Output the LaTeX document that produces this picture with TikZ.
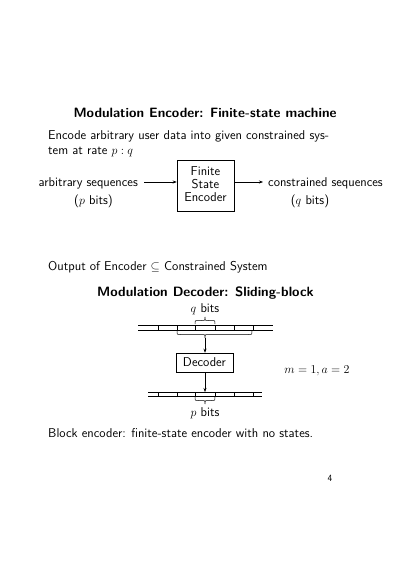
\documentclass[tikz,border=0pt]{standalone}
\usetikzlibrary{arrows.meta}
\begin{document}
\begin{tikzpicture}[x=1pt,y=-1pt,
  txt/.style={font=\sffamily\fontsize{12.8}{15}\selectfont, inner sep=0pt},
  ttl/.style={font=\sffamily\bfseries\fontsize{13.5}{16}\selectfont, inner sep=0pt},
  boxnode/.style={draw, line width=0.5pt, inner sep=0pt, font=\sffamily\fontsize{12.8}{15}\selectfont},
  arr/.style={line width=0.5pt, -{Stealth[length=4pt,width=3pt]}},
  ln/.style={line width=0.5pt}]
\useasboundingbox (0,0) rectangle (400,565);

% Encoder part
\node[ttl, anchor=base] (t1) at (205,117) {Modulation Encoder: Finite-state machine};
\node[txt, anchor=base west] (l1) at (48,139) {Encode arbitrary user data into given constrained sys-};
\node[txt, anchor=base west] (l2) at (48,154) {tem at rate $p:q$};

\node[boxnode, minimum width=57pt, minimum height=51pt] (enc) at (205.5,185.5) {};
\node[txt, anchor=base] (e1) at (205.5,175) {Finite};
\node[txt, anchor=base] (e2) at (205.5,188) {State};
\node[txt, anchor=base] (e3) at (205.5,201) {Encoder};

\node[txt, anchor=base east] (in) at (138,186) {arbitrary sequences};
\node[txt, anchor=base] (inb) at (93.5,204) {($p$ bits)};
\node[txt, anchor=base west] (out) at (268,186) {constrained sequences};
\node[txt, anchor=base] (outb) at (310,204) {($q$ bits)};
\coordinate (inarr) at (144,182);
\coordinate (outarr) at (263,182);
\draw[arr] (inarr) -- (enc.west |- inarr);
\draw[arr] (enc.east |- outarr) -- (outarr);

\node[txt, anchor=base west] (l3) at (48,270) {Output of Encoder $\subseteq$ Constrained System};

% Decoder part
\node[ttl, anchor=base] (t2) at (205.5,296) {Modulation Decoder: Sliding-block};
\node[txt, anchor=base] (qb) at (205,312) {$q$ bits};

% top tape
\draw[ln] (138,325) -- (273,325) (138,330) -- (273,330);
\foreach \x in {158,177,195,215,234,253} \draw[ln] (\x,325) -- (\x,330);
% small brace above
\draw[ln] (195,324) .. controls (195,320.5) .. (198.5,320.5) -- (201.5,320.5)
  .. controls (205,320.5) .. (205,317) .. controls (205,320.5) .. (208.5,320.5)
  -- (211.5,320.5) .. controls (215,320.5) .. (215,324);
% big brace below
\draw[ln] (177,331) .. controls (177,334.5) .. (180.5,334.5) -- (201.5,334.5)
  .. controls (205,334.5) .. (205,338) .. controls (205,334.5) .. (208.5,334.5)
  -- (248.5,334.5) .. controls (252,334.5) .. (252,331);
\coordinate (tip1) at (205,338);

\node[boxnode, minimum width=57pt, minimum height=19pt, align=center] (dec) at (204.5,362.5) {Decoder};
\draw[arr] (tip1) -- (tip1 |- dec.north);

% bottom tape
\draw[ln] (148,392) -- (262,392) (148,396.5) -- (262,396.5);
\foreach \x in {158,177,195,215,234,253} \draw[ln] (\x,392) -- (\x,396.5);
\coordinate (tapetop) at (205,392);
\draw[arr] (tapetop |- dec.south) -- (tapetop);
% brace below bottom tape
\draw[ln] (195,397) .. controls (195,400.5) .. (198.5,400.5) -- (201.5,400.5)
  .. controls (205,400.5) .. (205,404) .. controls (205,400.5) .. (208.5,400.5)
  -- (211.5,400.5) .. controls (215,400.5) .. (215,397);
\node[txt, anchor=base] (pb) at (205,416) {$p$ bits};

\node[txt, anchor=base] (ma) at (317,373) {$m=1,a=2$};

\node[txt, anchor=base west] (l4) at (48,437) {Block encoder: finite-state encoder with no states.};
\node[txt, anchor=base] (pg) at (330,481) {\fontsize{9.5}{11}\selectfont 4};
\end{tikzpicture}
\end{document}
